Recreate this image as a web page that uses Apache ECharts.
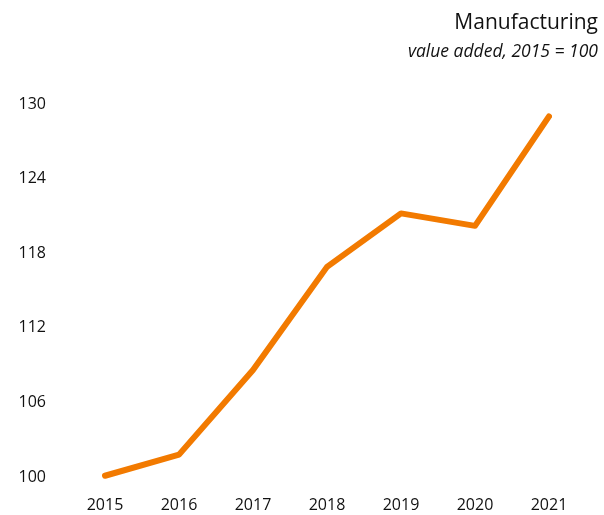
<!DOCTYPE html>
<html>
<head>
<meta charset="utf-8">
<script src="https://cdn.jsdelivr.net/npm/echarts@6/dist/echarts.min.js"></script>
<style>
  html, body { margin: 0; padding: 0; background: #fff; }
  #chart { width: 604px; height: 515px; }
</style>
</head>
<body>
<div id="chart"></div>
<script>
  // 制造业增加值，2015 = 100
  var years = ['2015', '2016', '2017', '2018', '2019', '2020', '2021'];
  var valueAdded = [100.1, 101.8, 108.6, 116.9, 121.2, 120.2, 129.0];
  var yTicks = [100, 106, 112, 118, 124, 130];

  var fontName = 'Open Sans';
  var myChart = echarts.init(document.getElementById('chart'));
  myChart.setOption({
    animation: false,
    title: [{
      text: 'Manufacturing',
      right: 6,
      top: 13,
      padding: 0,
      textStyle: { fontFamily: fontName, fontSize: 21, fontWeight: 'normal', color: '#111' }
    }, {
      text: 'value added, 2015 = 100',
      right: 6,
      top: 43,
      padding: 0,
      textStyle: { fontFamily: fontName, fontSize: 17.5, fontWeight: 'normal', fontStyle: 'italic', color: '#111' }
    }],
    grid: { left: 105, right: 55, top: 104, bottom: 38 },
    xAxis: {
      type: 'category',
      boundaryGap: false,
      data: years,
      axisLine: { show: false },
      axisTick: { show: false },
      axisLabel: { margin: 20, fontFamily: fontName, fontSize: 16, color: '#111' }
    },
    yAxis: {
      type: 'value',
      min: yTicks[0],
      max: yTicks[yTicks.length - 1],
      interval: 6,
      splitLine: { show: false },
      axisLabel: { margin: 59, fontFamily: fontName, fontSize: 16, color: '#111' }
    },
    series: [{
      type: 'line',
      data: valueAdded,
      symbol: 'none',
      lineStyle: { color: '#f27a00', width: 6, cap: 'round', join: 'round' }
    }]
  });
</script>
</body>
</html>
